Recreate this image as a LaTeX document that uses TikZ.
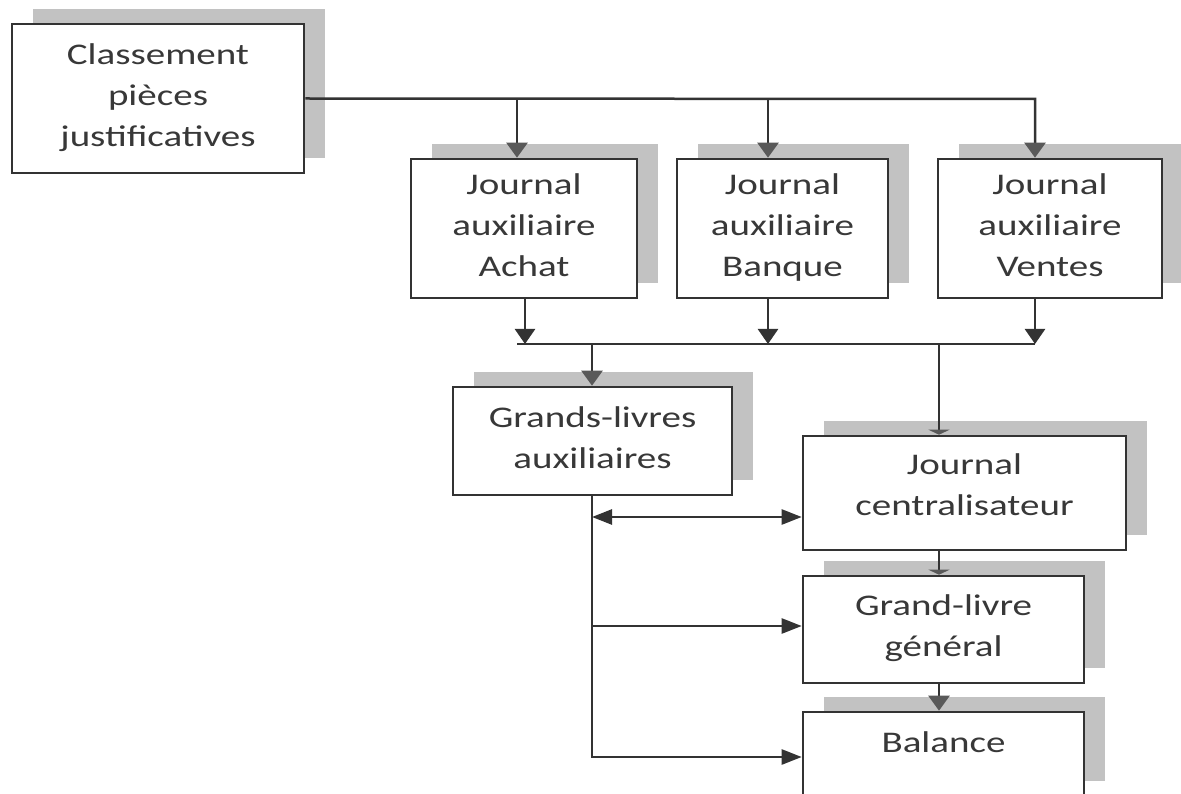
\documentclass[tikz,border=0pt]{standalone}
\usepackage{fontspec}
\setmainfont{Carlito}[FakeStretch=1.3]
\usetikzlibrary{arrows.meta,shadows}
\definecolor{linec}{HTML}{333333}
\definecolor{shadowc}{HTML}{C2C2C2}
\definecolor{tipc}{HTML}{595959}
\definecolor{textc}{HTML}{383838}
\begin{document}
\begin{tikzpicture}[x=1pt,y=-1pt,
  box/.style={draw=linec, line width=2.6pt, fill=white, rectangle, inner sep=0pt,
    align=center, text=textc, font=\fontsize{30}{41}\selectfont,
    execute at begin node={\rule{0pt}{33.4pt}}, execute at end node={\rule[-7pt]{0pt}{7pt}},
    general shadow={fill=shadowc, shadow xshift=21pt, shadow yshift=15pt}},
  conn/.style={draw=linec, line width=2.5pt},
  vtip/.style={conn, -{Triangle[length=15pt,width=20pt]}},
  gtip/.style={conn, -{Triangle[length=15pt,width=21pt,color=tipc]}},
  ftip/.style={conn, -{Triangle[length=5pt,width=21pt,color=tipc]}},
  htip/.style={conn, -{Triangle[length=20pt,width=15pt]}},
  dtip/.style={conn, {Triangle[length=20pt,width=15pt]}-{Triangle[length=20pt,width=15pt]}},
]
\fill[white] (0,0) rectangle (1181,794);
\useasboundingbox (0,0) rectangle (1181,794);
\clip (0,0) rectangle (1181,794);

\node[box, minimum width=292pt, minimum height=149pt] (cls) at (158,98.5) {Classement\\pièces\\justificatives};
\node[box, minimum width=226pt, minimum height=139pt] (ach) at (524,228.5) {Journal\\auxiliaire\\Achat};
\node[box, minimum width=211pt, minimum height=139pt] (ban) at (782.5,228.5) {Journal\\auxiliaire\\Banque};
\node[box, minimum width=224pt, minimum height=139pt] (ven) at (1050,228.5) {Journal\\auxiliaire\\Ventes};
\node[box, minimum width=279pt, minimum height=108pt] (gla) at (592.5,441) {Grands-livres\\auxiliaires};
\node[box, minimum width=323pt, minimum height=114pt] (jc) at (964.5,493) {Journal\\centralisateur\rule[-16.7pt]{0pt}{1pt}};
\node[box, minimum width=281pt, minimum height=107pt] (glg) at (943.5,629.5) {Grand-livre\\général};
\node[box, minimum width=281pt, minimum height=84pt] (bal) at (943.5,754) {\raisebox{17pt}{Balance}};

% top bus
\coordinate (t1) at (517,99);
\coordinate (t2) at (768,99);
\coordinate (t3) at (1035,99);
\draw[gtip] (cls.east) -- (t3) -- (t3 |- ven.north);
\draw[gtip] (t1) -- (t1 |- ach.north);
\draw[gtip] (t2) -- (t2 |- ban.north);

% middle bus
\coordinate (m0) at (517,344);
\coordinate (xa) at (525,344);
\coordinate (xb) at (768,344);
\coordinate (xc) at (1035,344);
\coordinate (xg) at (592,344);
\coordinate (xj) at (939,344);
\draw[conn] (m0) -- (xc);
\draw[vtip] (ach.south -| xa) -- (xa);
\draw[vtip] (ban.south -| xb) -- (xb);
\draw[vtip] (ven.south -| xc) -- (xc);
\draw[gtip] (xg) -- (xg |- gla.north);
\draw[ftip] (xj) -- (xj |- jc.north);
\draw[ftip] (jc.south -| xj) -- (glg.north -| xj);
\draw[gtip] (glg.south -| xj) -- (bal.north -| xj);

% left side
\coordinate (lb) at (592,757);
\coordinate (lg) at (592,626);
\coordinate (ld) at (592,517);
\draw[htip] (gla.south -| lb) -- (lb) -- (lb -| bal.west);
\draw[htip] (lg) -- (lg -| glg.west);
\draw[dtip] (ld) -- (ld -| jc.west);
\end{tikzpicture}
\end{document}
